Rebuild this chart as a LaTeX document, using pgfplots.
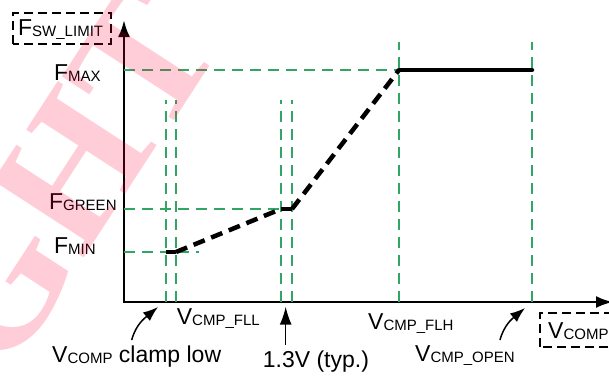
\documentclass[border=0pt]{standalone}
\usepackage{fontspec}
\setmainfont{Liberation Sans}
\newfontfamily\wmfont{Liberation Serif}
\usepackage{pgfplots}
\pgfplotsset{compat=1.18}
\usetikzlibrary{arrows.meta}
\definecolor{gline}{RGB}{50,165,100}
\definecolor{wm}{RGB}{255,5,55}
\newcommand{\sub}[1]{{\fontsize{15}{16}\selectfont\raisebox{-1.5pt}{#1}}}
\begin{document}
\begin{tikzpicture}
\begin{axis}[
  scale only axis, width=489pt, height=282pt,
  xmin=0, xmax=489, ymin=0, ymax=282,
  enlargelimits=false,
  axis lines=left,
  axis line style={line width=2.6pt, line cap=rect, -{Latex[length=17pt,width=12pt]}},
  xtick=\empty, ytick=\empty,
  clip=false,
  font=\fontsize{23}{26}\selectfont,
  gd/.style={gline, line width=1.3pt, dash pattern=on 11pt off 7pt},
]
% green guide lines
\addplot[gd] coordinates {(0,232) (275,232)};
\addplot[gd] coordinates {(0,93) (168,93)};
\addplot[gd] coordinates {(0,50) (75,50)};
\addplot[gd] coordinates {(42,0) (42,202)};
\addplot[gd] coordinates {(52,0) (52,202)};
\addplot[gd] coordinates {(157,0) (157,202)};
\addplot[gd] coordinates {(168,0) (168,202)};
\addplot[gd] coordinates {(275,0) (275,260)};
\addplot[gd] coordinates {(408,0) (408,260)};
% characteristic curve
\addplot[black, line width=4.5pt] coordinates {(42,50) (52,50)};
\addplot[black, line width=4.5pt, dash pattern=on 12pt off 7pt] coordinates {(52,50) (157,93)};
\addplot[black, line width=4.5pt] coordinates {(157,93) (168,93)};
\addplot[black, line width=4.5pt, dash pattern=on 12pt off 7pt] coordinates {(168,93) (275,232)};
\addplot[black, line width=4.5pt, line cap=round] coordinates {(275,232) (408,232)};
% labels
\draw[black, line width=2pt, dash pattern=on 9pt off 5pt] (axis cs:-111,258) rectangle (axis cs:-13,289);
\node[anchor=base west, inner sep=0pt] at (axis cs:-106,267) {F\sub{SW\_LIMIT}};
\node[anchor=base west, inner sep=0pt] at (axis cs:-70,222) {F\sub{MAX}};
\node[anchor=base west, inner sep=0pt] at (axis cs:-75,93) {F\sub{GREEN}};
\node[anchor=base west, inner sep=0pt] at (axis cs:-70,49) {F\sub{MIN}};
\node[anchor=base west, inner sep=0pt] at (axis cs:52.7,-22) {V\sub{CMP\_FLL}};
\node[anchor=base west, inner sep=0pt] at (axis cs:244,-27) {V\sub{CMP\_FLH}};
\node[anchor=base west, inner sep=0pt] at (axis cs:-72,-60) {V\sub{COMP} clamp low};
\node[anchor=base west, inner sep=0pt] at (axis cs:291,-59) {V\sub{CMP\_OPEN}};
\node[anchor=base west, inner sep=0pt] at (axis cs:138.7,-65) {1.3V (typ.)};
\draw[black, line width=2pt, dash pattern=on 9pt off 5pt] (axis cs:416,-45) rectangle (axis cs:500,-11);
\node[anchor=base west, inner sep=0pt] at (axis cs:424,-36) {V\sub{COMP}};
% pointer arrows
\draw[line width=1.5pt, -{Latex[length=15pt,width=11pt]}] (axis cs:7.7,-38) to[out=75, in=220] (axis cs:34,-5);
\draw[line width=1.5pt, -{Latex[length=15pt,width=11pt]}] (axis cs:376,-38) to[out=75, in=220] (axis cs:401,-6);
\draw[line width=1.5pt, -{Latex[length=18pt,width=12pt]}] (axis cs:161.7,-43) -- (axis cs:161.7,-4.7);
% watermark
\node[rotate=57, inner sep=0pt, text=wm, text opacity=0.2, font=\wmfont\bfseries\fontsize{180}{180}\selectfont] at (axis cs:-251,-174) {COPYRIGHT};
\coordinate (bl) at (axis cs:-124,-74);
\coordinate (tr) at (axis cs:485,302);
\end{axis}
\pgfresetboundingbox
\path[use as bounding box] (bl) rectangle (tr);
\end{tikzpicture}
\end{document}
